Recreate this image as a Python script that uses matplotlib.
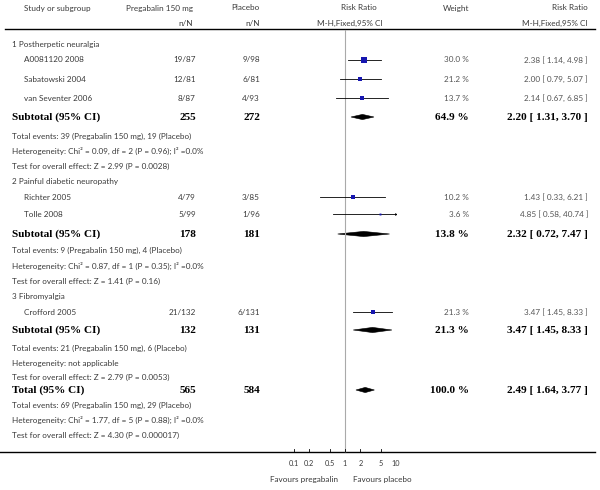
import numpy as np
import matplotlib
matplotlib.use('Agg')
import matplotlib.pyplot as plt
from matplotlib.patches import Polygon

# ---- data ----
group_names = ['1 Postherpetic neuralgia', '2 Painful diabetic neuropathy', '3 Fibromyalgia']
study_names = [['A0081120 2008', 'Sabatowski 2004', 'van Seventer 2006'],
               ['Richter 2005', 'Tolle 2008'],
               ['Crofford 2005']]
preg_events = [[19, 12, 8], [4, 5], [21]]
preg_total = [[87, 81, 87], [79, 99], [132]]
plac_events = [[9, 6, 4], [3, 1], [6]]
plac_total = [[98, 81, 93], [85, 96], [131]]
weights = [[30.0, 21.2, 13.7], [10.2, 3.6], [21.3]]
rr = [[2.38, 2.00, 2.14], [1.43, 4.85], [3.47]]
rr_lo = [[1.14, 0.79, 0.67], [0.33, 0.58], [1.45]]
rr_hi = [[4.98, 5.07, 6.85], [6.21, 40.74], [8.33]]

sub_preg = [255, 178, 132]
sub_plac = [272, 181, 131]
sub_weight = [64.9, 13.8, 21.3]
sub_rr = [2.20, 2.32, 3.47]
sub_lo = [1.31, 0.72, 1.45]
sub_hi = [3.70, 7.47, 8.33]
sub_notes = [['Total events: 39 (Pregabalin 150 mg), 19 (Placebo)',
              'Heterogeneity: Chi\u00b2 = 0.09, df = 2 (P = 0.96); I\u00b2 =0.0%',
              'Test for overall effect: Z = 2.99 (P = 0.0028)'],
             ['Total events: 9 (Pregabalin 150 mg), 4 (Placebo)',
              'Heterogeneity: Chi\u00b2 = 0.87, df = 1 (P = 0.35); I\u00b2 =0.0%',
              'Test for overall effect: Z = 1.41 (P = 0.16)'],
             ['Total events: 21 (Pregabalin 150 mg), 6 (Placebo)',
              'Heterogeneity: not applicable',
              'Test for overall effect: Z = 2.79 (P = 0.0053)']]

tot_preg, tot_plac = 565, 584
tot_weight = 100.0
tot_rr, tot_lo, tot_hi = 2.49, 1.64, 3.77
tot_notes = ['Total events: 69 (Pregabalin 150 mg), 29 (Placebo)',
             'Heterogeneity: Chi\u00b2 = 1.77, df = 5 (P = 0.88); I\u00b2 =0.0%',
             'Test for overall effect: Z = 4.30 (P = 0.000017)']

ticks = [0.1, 0.2, 0.5, 1, 2, 5, 10]
tick_labels = ['0.1', '0.2', '0.5', '1', '2', '5', '10']

# ---- layout (pixel rows) ----
group_y = [44, 181, 296]
study_y = [[60, 79, 98], [197, 214], [312]]
sub_y = [117, 234, 330]
notes_y = [[136, 151, 166], [250, 266, 281], [348, 363, 377]]
total_y = 390
tot_notes_y = [405, 420, 435]
axis_y = 452

X_STUDY, X_GROUP = 24, 12
X_PREG, X_PLAC, X_W, X_RR = 196, 260, 469, 588

FONT = 'Lato'
SERIF = 'Liberation Serif'
fs = 5.9
fsb = 8.1
txt = '#3a3a3a'
num = '#555555'
blue = '#1616b0'

fig = plt.figure(figsize=(6, 4.9), dpi=100)
ax = fig.add_axes([0, 0, 1, 1])
ax.set_xlim(0, 600)
ax.set_ylim(490, 0)
ax.axis('off')

fax = fig.add_axes([294 / 600, 0, (396 - 294) / 600, 1])
fax.set_xscale('log')
fax.set_xlim(0.1, 10)
fax.set_ylim(490, 0)
fax.axis('off')
fax.patch.set_alpha(0)


def t(x, y, s, ha='left', bold=False, color=txt):
    if bold:
        ax.text(x, y, s, ha=ha, va='center', fontsize=fsb, fontweight='bold',
                family=SERIF, color='black')
    else:
        ax.text(x, y, s, ha=ha, va='center', fontsize=fs, family=FONT, color=color)


def fmt_ci(m, lo, hi):
    return '%.2f [ %.2f, %.2f ]' % (m, lo, hi)


def diamond(m, lo, hi, y, h=2.6):
    fax.add_patch(Polygon([[lo, y], [m, y - h], [hi, y], [m, y + h]],
                          closed=True, fc='black', ec='black', lw=0.4))


# header
t(X_STUDY, 8, 'Study or subgroup')
t(193, 8, 'Pregabalin 150 mg', ha='right')
t(193, 23, 'n/N', ha='right')
t(X_PLAC, 8, 'Placebo', ha='right')
t(X_PLAC, 23, 'n/N', ha='right')
t(359, 8, 'Risk Ratio', ha='center')
t(350, 23, 'M-H,Fixed,95% CI', ha='center')
t(X_W, 8, 'Weight', ha='right')
t(X_RR, 8, 'Risk Ratio', ha='right')
t(X_RR, 23, 'M-H,Fixed,95% CI', ha='right')
ax.plot([5, 595], [29, 29], color='black', lw=1.0)

# null line
fax.plot([1, 1], [30, axis_y], color='#aaaaaa', lw=0.8)

for g in range(len(group_names)):
    t(X_GROUP, group_y[g], group_names[g])
    for i in range(len(study_names[g])):
        y = study_y[g][i]
        t(X_STUDY, y, study_names[g][i])
        t(X_PREG, y, '%d/%d' % (preg_events[g][i], preg_total[g][i]), ha='right')
        t(X_PLAC, y, '%d/%d' % (plac_events[g][i], plac_total[g][i]), ha='right')
        t(X_W, y, '%.1f %%' % weights[g][i], ha='right', color=num)
        t(X_RR, y, fmt_ci(rr[g][i], rr_lo[g][i], rr_hi[g][i]), ha='right', color=num)
        hi = min(rr_hi[g][i], 10)
        fax.plot([rr_lo[g][i], hi], [y, y], color='black', lw=0.6)
        if rr_hi[g][i] > 10:
            fax.plot([hi], [y], marker='>', ms=2, color='black', mew=0)
        side = np.sqrt(weights[g][i] / 30.0) * 4.0
        fax.plot([rr[g][i]], [y], marker='s', ms=side, color=blue, mew=0)
    y = sub_y[g]
    t(X_GROUP, y, 'Subtotal (95% CI)', bold=True)
    t(X_PREG, y, str(sub_preg[g]), ha='right', bold=True)
    t(X_PLAC, y, str(sub_plac[g]), ha='right', bold=True)
    t(X_W, y, '%.1f %%' % sub_weight[g], ha='right', bold=True)
    t(X_RR, y, fmt_ci(sub_rr[g], sub_lo[g], sub_hi[g]), ha='right', bold=True)
    diamond(sub_rr[g], sub_lo[g], sub_hi[g], y)
    for s, yy in zip(sub_notes[g], notes_y[g]):
        t(X_GROUP, yy, s)

# total
t(X_GROUP, total_y, 'Total (95% CI)', bold=True)
t(X_PREG, total_y, str(tot_preg), ha='right', bold=True)
t(X_PLAC, total_y, str(tot_plac), ha='right', bold=True)
t(X_W, total_y, '%.1f %%' % tot_weight, ha='right', bold=True)
t(X_RR, total_y, fmt_ci(tot_rr, tot_lo, tot_hi), ha='right', bold=True)
diamond(tot_rr, tot_lo, tot_hi, total_y)
for s, yy in zip(tot_notes, tot_notes_y):
    t(X_GROUP, yy, s)

# bottom scale
ax.plot([0, 595], [axis_y, axis_y], color='black', lw=1.0)
for v, lab in zip(ticks, tick_labels):
    fax.plot([v, v], [axis_y - 3, axis_y], color='black', lw=0.6)
    fax.text(v, 463, lab, ha='center', va='center', fontsize=fs - 0.6, family=FONT, color=txt)
t(338, 479, 'Favours pregabalin', ha='right')
t(353, 479, 'Favours placebo')

fig.savefig('out.png', dpi=100, facecolor='white')
